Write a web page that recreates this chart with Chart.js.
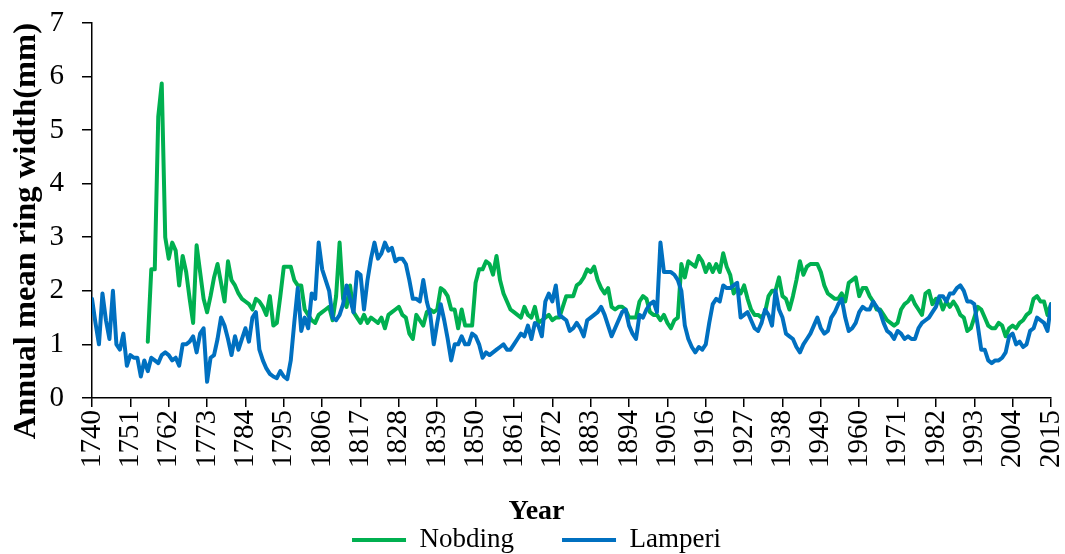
<!DOCTYPE html>
<html>
<head>
<meta charset="utf-8">
<title>Annual mean ring width</title>
<script src="https://cdn.jsdelivr.net/npm/chart.js@4.4.1/dist/chart.umd.min.js"></script>
<style>
  html, body { margin: 0; padding: 0; background: #fff; }
  #wrap { width: 1065px; height: 554px; }
</style>
</head>
<body>
<div id="wrap"><canvas id="ringChart" width="1065" height="554"></canvas></div>
<script>
// years on the x axis
const firstYear = 1740;
const lastYear = 2015;
const xTickYears = [1740, 1751, 1762, 1773, 1784, 1795, 1806, 1817, 1828, 1839, 1850, 1861, 1872,
  1883, 1894, 1905, 1916, 1927, 1938, 1949, 1960, 1971, 1982, 1993, 2004, 2015];
const yTickValues = [0, 1, 2, 3, 4, 5, 6, 7];

// Lamperi, 1740-2015 (one value per year)
const lamperi = [
  1.85, 1.4, 1.0, 1.95, 1.45, 1.1, 2.0, 1.0, 0.9, 1.2,
  0.6, 0.8, 0.75, 0.75, 0.4, 0.7, 0.5, 0.75, 0.7, 0.65,
  0.8, 0.85, 0.8, 0.7, 0.75, 0.6, 1.0, 1.0, 1.05, 1.15,
  0.85, 1.2, 1.3, 0.3, 0.75, 0.8, 1.1, 1.5, 1.35, 1.1,
  0.8, 1.15, 0.9, 1.1, 1.3, 1.05, 1.5, 1.6, 0.9, 0.7,
  0.55, 0.45, 0.4, 0.37, 0.5, 0.4, 0.35, 0.7, 1.4, 2.05,
  1.25, 1.5, 1.3, 1.95, 1.85, 2.9, 2.4, 2.2, 2.0, 1.5,
  1.45, 1.55, 1.75, 2.1, 1.85, 1.6, 2.35, 2.3, 1.65, 2.2,
  2.6, 2.9, 2.6, 2.7, 2.9, 2.75, 2.8, 2.55, 2.6, 2.6,
  2.5, 2.2, 1.85, 1.85, 1.8, 2.2, 1.8, 1.55, 1.0, 1.4,
  1.75, 1.45, 1.1, 0.7, 1.0, 1.0, 1.15, 1.0, 1.0, 1.2,
  1.15, 1.0, 0.75, 0.85, 0.8, 0.85, 0.9, 0.95, 1.0, 0.9,
  0.9, 1.0, 1.1, 1.2, 1.15, 1.35, 1.1, 1.4, 1.35, 1.15,
  1.8, 1.95, 1.8, 2.1, 1.55, 1.5, 1.45, 1.25, 1.3, 1.4,
  1.3, 1.15, 1.45, 1.5, 1.55, 1.6, 1.7, 1.55, 1.35, 1.15,
  1.3, 1.45, 1.6, 1.65, 1.35, 1.2, 1.1, 1.55, 1.5, 1.65,
  1.75, 1.8, 1.6, 2.9, 2.35, 2.35, 2.35, 2.3, 2.2, 2.0,
  1.35, 1.1, 0.95, 0.85, 0.95, 0.9, 1.0, 1.4, 1.75, 1.85,
  1.8, 2.1, 2.05, 2.05, 2.1, 2.15, 1.5, 1.55, 1.6, 1.45,
  1.3, 1.25, 1.4, 1.65, 1.55, 1.35, 2.0, 1.65, 1.5, 1.2,
  1.15, 1.1, 0.95, 0.85, 1.0, 1.1, 1.2, 1.35, 1.5, 1.3,
  1.2, 1.25, 1.5, 1.6, 1.75, 1.85, 1.5, 1.25, 1.3, 1.4,
  1.6, 1.7, 1.65, 1.65, 1.8, 1.7, 1.6, 1.4, 1.25, 1.2,
  1.1, 1.25, 1.2, 1.1, 1.15, 1.1, 1.1, 1.3, 1.4, 1.45,
  1.5, 1.6, 1.7, 1.9, 1.9, 1.8, 1.95, 1.95, 2.05, 2.1,
  2.0, 1.8, 1.8, 1.75, 1.35, 0.9, 0.9, 0.7, 0.65, 0.7,
  0.7, 0.75, 0.85, 1.15, 1.2, 1.0, 1.05, 0.95, 1.0, 1.25,
  1.3, 1.5, 1.45, 1.4, 1.25, 1.75
];

// Nobding, record starts in 1756
const nobding = [
  null, null, null, null, null, null, null, null, null, null,
  null, null, null, null, null, null, 1.05, 2.4, 2.4, 5.25,
  5.87, 3.0, 2.6, 2.9, 2.75, 2.1, 2.65, 2.35, 1.85, 1.4,
  2.85, 2.35, 1.85, 1.6, 1.9, 2.25, 2.5, 2.15, 1.8, 2.55,
  2.2, 2.1, 1.95, 1.85, 1.8, 1.75, 1.65, 1.85, 1.8, 1.7,
  1.55, 1.9, 1.35, 1.4, 1.9, 2.45, 2.45, 2.45, 2.2, 2.1,
  2.1, 1.65, 1.55, 1.45, 1.4, 1.55, 1.6, 1.65, 1.7, 1.45,
  1.9, 2.9, 1.85, 1.7, 2.1, 1.6, 1.5, 1.4, 1.55, 1.4,
  1.5, 1.45, 1.4, 1.5, 1.3, 1.55, 1.6, 1.65, 1.7, 1.55,
  1.5, 1.2, 1.1, 1.55, 1.45, 1.35, 1.6, 1.65, 1.6, 1.65,
  2.05, 2.0, 1.9, 1.65, 1.65, 1.3, 1.65, 1.35, 1.35, 1.35,
  2.15, 2.4, 2.4, 2.55, 2.5, 2.3, 2.65, 2.2, 1.95, 1.8,
  1.65, 1.6, 1.55, 1.5, 1.7, 1.55, 1.5, 1.7, 1.4, 1.45,
  1.5, 1.55, 1.45, 1.5, 1.5, 1.7, 1.9, 1.9, 1.9, 2.1,
  2.15, 2.25, 2.4, 2.35, 2.45, 2.2, 2.05, 1.95, 2.05, 1.7,
  1.65, 1.7, 1.7, 1.65, 1.5, 1.5, 1.5, 1.8, 1.9, 1.85,
  1.6, 1.55, 1.55, 1.45, 1.55, 1.4, 1.3, 1.45, 1.5, 2.5,
  2.25, 2.55, 2.5, 2.45, 2.65, 2.55, 2.35, 2.5, 2.35, 2.5,
  2.35, 2.7, 2.45, 2.3, 1.95, 2.05, 1.95, 2.1, 1.85, 1.65,
  1.55, 1.55, 1.5, 1.6, 1.9, 2.0, 2.0, 2.25, 1.9, 1.85,
  1.65, 1.9, 2.2, 2.55, 2.3, 2.45, 2.5, 2.5, 2.5, 2.35,
  2.1, 1.95, 1.9, 1.85, 1.85, 1.95, 1.8, 2.15, 2.2, 2.25,
  1.9, 2.05, 2.05, 1.9, 1.8, 1.65, 1.65, 1.55, 1.45, 1.4,
  1.35, 1.4, 1.65, 1.75, 1.8, 1.9, 1.75, 1.65, 1.55, 1.95,
  2.0, 1.75, 1.85, 1.85, 1.65, 1.8, 1.7, 1.8, 1.7, 1.55,
  1.5, 1.25, 1.3, 1.5, 1.7, 1.65, 1.5, 1.35, 1.3, 1.3,
  1.4, 1.35, 1.15, 1.3, 1.35, 1.3, 1.4, 1.45, 1.55, 1.6,
  1.85, 1.9, 1.8, 1.8, 1.55, 1.75
];

const years = Array.from({ length: lastYear - firstYear + 1 }, (_, i) => firstYear + i);
const toPoints = values => years.map((year, i) => ({ x: year, y: values[i] }));

Chart.defaults.font.family = "'Liberation Serif', 'Times New Roman', serif";
Chart.defaults.color = '#000';

const ringChart = new Chart(document.getElementById('ringChart'), {
  type: 'line',
  data: {
    datasets: [{
      label: 'Nobding',
      data: toPoints(nobding),
      borderColor: '#00b050',
      backgroundColor: '#00b050',
      borderWidth: 4,
      borderJoinStyle: 'round',
      borderCapStyle: 'round',
      pointRadius: 0,
      order: 1
    },
    {
      label: 'Lamperi',
      data: toPoints(lamperi),
      borderColor: '#0070c0',
      backgroundColor: '#0070c0',
      borderWidth: 4,
      borderJoinStyle: 'round',
      borderCapStyle: 'round',
      pointRadius: 0,
      order: 0
    }]
  },
  options: {
    responsive: false,
    animation: false,
    devicePixelRatio: 1,
    layout: {
      padding: { left: 22, right: 14, top: 23, bottom: -9.5 }
    },
    plugins: {
      legend: {
        position: 'bottom',
        title: {
          display: true,
          text: 'Year',
          font: { size: 28, weight: 'bold' },
          padding: { top: 0, bottom: -53 }
        },
        labels: {
          usePointStyle: true,
          pointStyle: 'line',
          pointStyleWidth: 54,
          padding: 48,
          font: { size: 27 },
          sort: (a, b) => a.datasetIndex - b.datasetIndex
        }
      },
      tooltip: { enabled: false }
    },
    scales: {
      x: {
        type: 'linear',
        min: firstYear,
        max: lastYear,
        afterBuildTicks: scale => {
          scale.ticks = xTickYears.map(v => ({ value: v }));
        },
        afterFit: scale => {
          scale.height = 100;
          scale.paddingLeft = 0;
          scale.paddingRight = 0;
        },
        ticks: {
          autoSkip: false,
          minRotation: 90,
          maxRotation: 90,
          padding: 3,
          font: { size: 29 },
          callback: value => String(value)
        },
        grid: { drawOnChartArea: false, tickLength: 9, color: '#000', lineWidth: 1.5 },
        border: { color: '#000', width: 1.5 }
      },
      y: {
        min: 0,
        max: 7,
        afterBuildTicks: scale => {
          scale.ticks = yTickValues.map(v => ({ value: v }));
        },
        afterFit: scale => {
          scale.width = 70;
          scale.paddingTop = 0;
          scale.paddingBottom = 0;
        },
        ticks: { padding: 18, font: { size: 29 } },
        grid: { drawOnChartArea: false, tickLength: 10, color: '#000', lineWidth: 1.5 },
        border: { color: '#000', width: 1.5 },
        title: {
          display: true,
          text: 'Annual mean ring width(mm)',
          align: 'end',
          font: { size: 32.5, weight: 'bold' },
          padding: { top: -15, bottom: 0 }
        }
      }
    }
  }
});
</script>
</body>
</html>
